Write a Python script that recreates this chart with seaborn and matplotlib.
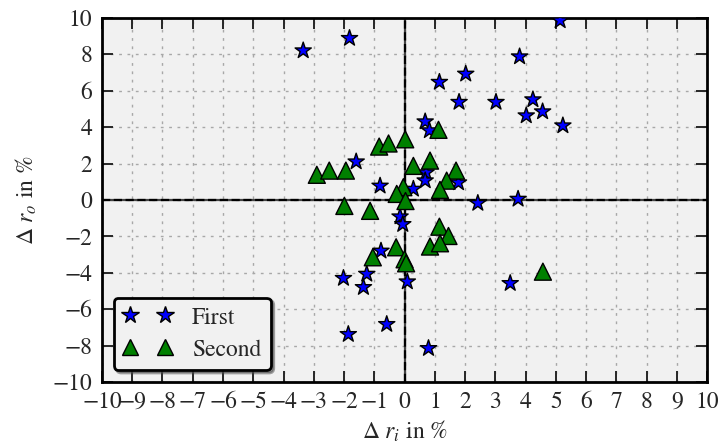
# Scatter of relative deviations, two series, with centred zero lines
import matplotlib
matplotlib.use("Agg")
import matplotlib.pyplot as plt
import seaborn as sns
import pandas as pd

# data
first_x = [-3.35, -1.82, 2.83, 5.14, 3.80, 2.02, 1.15, 1.80, 3.02, 4.24, 4.02, 4.56,
           5.23, 0.68, 0.82, -1.60, -0.81, 0.71, 0.68, 0.29, 1.78, 2.42, 3.75,
           -0.15, -0.06, -0.78, -2.02, -1.25, -1.36, 0.09, 3.49, -0.59, -1.86, 0.79]
first_y = [8.20, 8.88, 10.55, 9.85, 7.87, 6.92, 6.47, 5.37, 5.37, 5.51, 4.63, 4.85,
           4.08, 4.30, 3.81, 2.10, 0.77, 1.50, 1.06, 0.60, 0.95, -0.18, 0.05,
           -0.92, -1.34, -2.80, -4.30, -4.07, -4.80, -4.49, -4.58, -6.83, -7.38, -8.15]

second_x = [-2.90, -2.49, -1.94, -0.84, -0.53, 0.02, 1.12, 0.29, 0.84, 1.70, 1.39,
            1.17, -0.04, -0.26, 0.03, -1.99, -1.14, -0.28, -1.05, 0.00, 0.05, 0.84,
            1.15, 1.45, 1.17, 4.57]
second_y = [1.38, 1.61, 1.61, 2.93, 3.10, 3.33, 3.85, 1.87, 2.16, 1.61, 1.06,
            0.55, 0.70, 0.33, -0.06, -0.33, -0.60, -2.60, -3.15, -3.26, -3.48, -2.56,
            -1.47, -1.98, -2.38, -3.94]

x_ticks = list(range(-10, 11))
y_ticks = list(range(-10, 11, 2))

df = pd.DataFrame({
    "dri": first_x + second_x,
    "dro": first_y + second_y,
    "series": ["First"] * len(first_x) + ["Second"] * len(second_x),
})

sns.set_style("ticks")
plt.rcParams["font.family"] = ["STIXGeneral", "DejaVu Serif"]
plt.rcParams["mathtext.fontset"] = "stix"

fig = plt.figure(figsize=(7.18, 4.46), dpi=100)
ax = fig.add_axes([0.142, 0.1435, 0.843, 0.8165])
ax.set_facecolor("#f1f1f1")

colors = {"First": "#0000ff", "Second": "#008000"}
markers = {"First": "*", "Second": "^"}

# grid + zero lines
ax.set_xticks(x_ticks)
ax.set_yticks(y_ticks)
ax.grid(True, color="#a8a8a8", linestyle=(0, (2, 4)), linewidth=1)
ax.axhline(0, color="#444444", lw=1.6, zorder=1.5)
ax.axhline(0, color="k", lw=1.6, ls="--", zorder=1.6)
ax.axvline(0, color="#444444", lw=1.6, zorder=1.5)
ax.axvline(0, color="k", lw=1.6, ls="--", zorder=1.6)

sns.scatterplot(
    data=df, x="dri", y="dro",
    hue="series", style="series",
    palette=colors, markers=markers,
    s=150, edgecolor="k", linewidth=1,
    legend=False, ax=ax, zorder=3,
)

ax.set_xlim(-10, 10)
ax.set_ylim(-10, 10)
ax.set_xticklabels([str(t).replace("-", "\u2212") for t in x_ticks])
ax.set_yticklabels([str(t).replace("-", "\u2212") for t in y_ticks])
ax.tick_params(direction="in", length=8, width=1.4, top=True, right=True,
               labelsize=17, pad=7)
for sp in ax.spines.values():
    sp.set_linewidth(2)
    sp.set_color("k")

ax.set_xlabel(r"$\Delta\ r_i$ in %", fontsize=17, labelpad=4)
ax.set_ylabel(r"$\Delta\ r_o$ in %", fontsize=17, labelpad=10)

handles = [
    plt.Line2D([], [], ls="", marker="*", markersize=13, markerfacecolor=colors["First"],
               markeredgecolor="k", markeredgewidth=1),
    plt.Line2D([], [], ls="", marker="^", markersize=12, markerfacecolor=colors["Second"],
               markeredgecolor="k", markeredgewidth=1),
]
leg = ax.legend(handles, ["First", "Second"], loc="lower left", numpoints=2,
                fontsize=17, fancybox=True, shadow=True, frameon=True,
                borderaxespad=0.5, handlelength=2.05, handletextpad=0.87,
                borderpad=0.4, labelspacing=0.45)
leg.get_frame().set_edgecolor("k")
leg.get_frame().set_linewidth(2)
leg.get_frame().set_facecolor("#f1f1f1")
leg.get_frame().set_alpha(1)

fig.savefig("out.png", dpi=100)
